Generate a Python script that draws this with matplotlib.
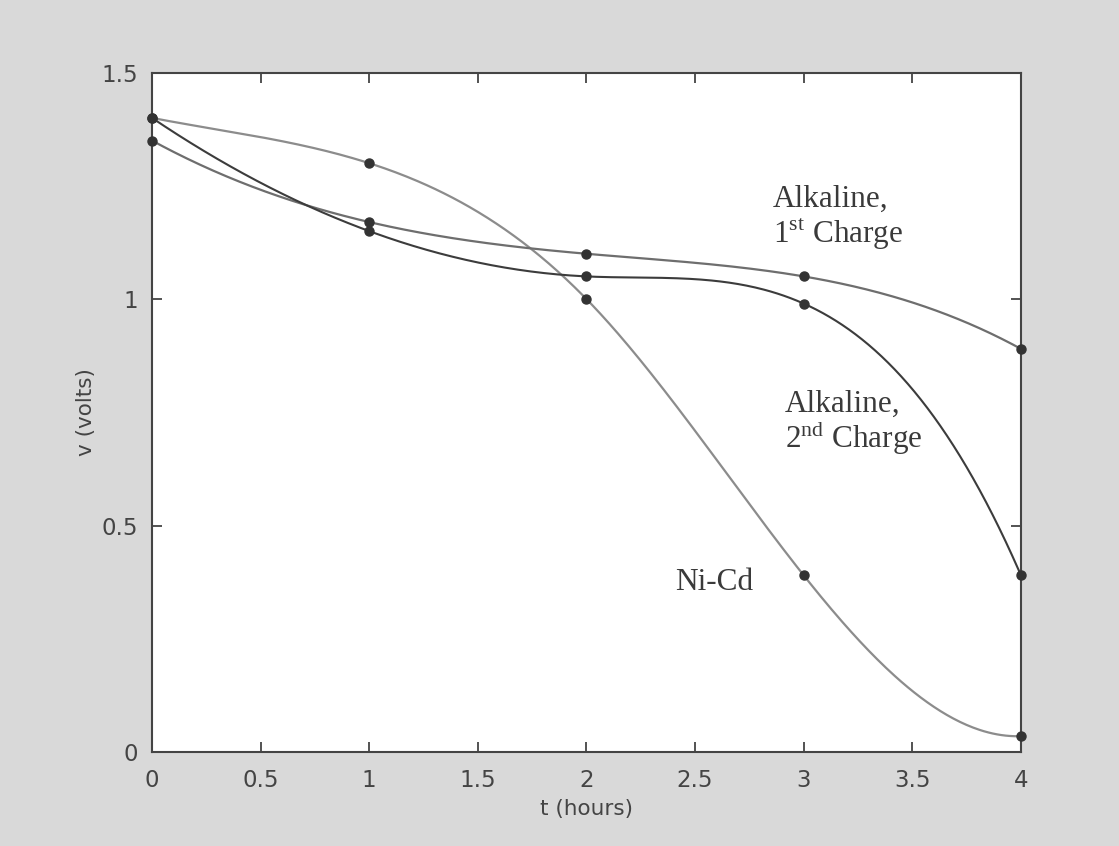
import numpy as np
import matplotlib
matplotlib.use("Agg")
import matplotlib.pyplot as plt

# Discharge measurements, one reading per hour
t_hours = [0, 1, 2, 3, 4]
alkaline_1st = [1.35, 1.17, 1.10, 1.05, 0.89]
alkaline_2nd = [1.40, 1.15, 1.05, 0.99, 0.39]
ni_cd = [1.40, 1.30, 1.00, 0.39, 0.035]

x_ticks = [0, 0.5, 1, 1.5, 2, 2.5, 3, 3.5, 4]
x_tick_labels = ["0", "0.5", "1", "1.5", "2", "2.5", "3", "3.5", "4"]
y_ticks = [0, 0.5, 1, 1.5]
y_tick_labels = ["0", "0.5", "1", "1.5"]


def not_a_knot_spline(x, y, xs):
    """Cubic spline with not-a-knot end conditions, evaluated at xs."""
    x = np.asarray(x, float)
    y = np.asarray(y, float)
    n = len(x)
    h = np.diff(x)
    A = np.zeros((n, n))
    b = np.zeros(n)
    # not-a-knot at the start: continuous third derivative at x[1]
    A[0, 0] = h[1]
    A[0, 1] = -(h[0] + h[1])
    A[0, 2] = h[0]
    for i in range(1, n - 1):
        A[i, i - 1] = h[i - 1]
        A[i, i] = 2 * (h[i - 1] + h[i])
        A[i, i + 1] = h[i]
        b[i] = 6 * ((y[i + 1] - y[i]) / h[i] - (y[i] - y[i - 1]) / h[i - 1])
    # not-a-knot at the end: continuous third derivative at x[n-2]
    A[-1, -3] = h[-1]
    A[-1, -2] = -(h[-2] + h[-1])
    A[-1, -1] = h[-2]
    M = np.linalg.solve(A, b)
    idx = np.clip(np.searchsorted(x, xs) - 1, 0, n - 2)
    x0, x1 = x[idx], x[idx + 1]
    hh = x1 - x0
    return (M[idx] * (x1 - xs) ** 3 / (6 * hh)
            + M[idx + 1] * (xs - x0) ** 3 / (6 * hh)
            + (y[idx] / hh - M[idx] * hh / 6) * (x1 - xs)
            + (y[idx + 1] / hh - M[idx + 1] * hh / 6) * (xs - x0))


plt.rcParams["mathtext.fontset"] = "custom"
plt.rcParams["mathtext.rm"] = "Liberation Serif"

fig = plt.figure(figsize=(11.19, 8.46), dpi=100, facecolor="#d9d9d9")
ax = fig.add_axes([0.1358, 0.1111, 0.7766, 0.8031])
ax.set_facecolor("white")

ts = np.linspace(t_hours[0], t_hours[-1], 400)
curves = [
    (ni_cd, "#8c8c8c", 1.6),
    (alkaline_1st, "#6e6e6e", 1.6),
    (alkaline_2nd, "#3c3c3c", 1.5),
]
for values, color, lw in curves:
    ax.plot(ts, not_a_knot_spline(t_hours, values, ts), color=color,
            lw=lw, zorder=2, clip_on=False)
    ax.plot(t_hours, values, "o", color="#333333", ms=6.5, zorder=3,
            clip_on=False)

ax.set_xlim(0, 4)
ax.set_ylim(0, 1.5)
ax.set_xticks(x_ticks)
ax.set_xticklabels(x_tick_labels)
ax.set_yticks(y_ticks)
ax.set_yticklabels(y_tick_labels)
ax.tick_params(direction="in", length=7, width=1.3, color="#444444",
               top=True, right=True, labelsize=16.5, labelcolor="#444444")
ax.tick_params(axis="x", pad=12)
ax.tick_params(axis="y", pad=10)
for side in ax.spines.values():
    side.set_color("#444444")
    side.set_linewidth(1.5)

ax.set_xlabel("t (hours)", fontsize=15.5, color="#444444", labelpad=5)
ax.set_ylabel("v (volts)", fontsize=15.5, color="#444444", labelpad=4)

serif = dict(family="Liberation Serif", fontsize=22.5, color="#3a3a3a",
             ha="left", va="baseline")
ax.text(2.858, 1.204, "Alkaline,", **serif)
ax.text(2.858, 1.124, r"1$^{\rm st}$ Charge", **serif)
ax.text(2.914, 0.751, "Alkaline,", **serif)
ax.text(2.914, 0.671, r"2$^{\rm nd}$ Charge", **serif)
ax.text(2.407, 0.358, "Ni-Cd", **serif)

fig.savefig("out.png", dpi=100, facecolor=fig.get_facecolor())
